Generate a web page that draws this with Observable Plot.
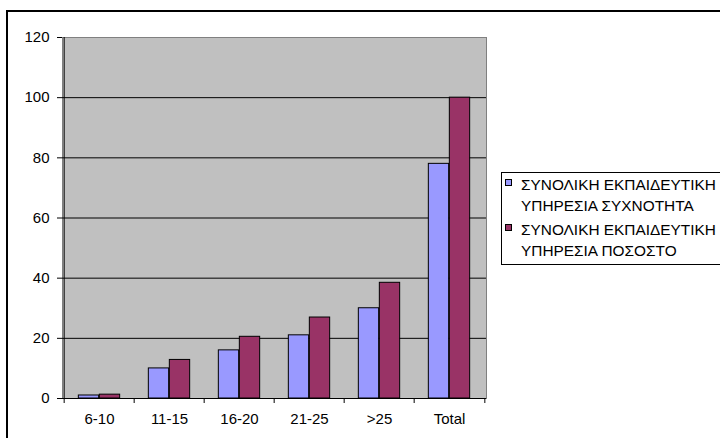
<!DOCTYPE html>
<html>
<head>
<meta charset="utf-8">
<script src="https://cdn.jsdelivr.net/npm/d3@7"></script>
<script src="https://cdn.jsdelivr.net/npm/@observablehq/plot@0.6"></script>
<style>
  html, body { margin: 0; padding: 0; background: #fff; }
  body { width: 720px; height: 438px; overflow: hidden; position: relative; font-family: "Liberation Sans", Arial, sans-serif; }
  #outer { position: absolute; left: 6px; top: 10px; width: 800px; height: 600px; border-left: 2px solid #000; border-top: 2px solid #000; box-sizing: border-box; }
  #chart { position: absolute; left: 0; top: 0; }
  #chart svg text { font-family: "Liberation Sans", Arial, sans-serif !important; font-size: 15px !important; fill: #000; }
  #legend { position: absolute; left: 501px; top: 172px; width: 300px; border: 1px solid #000; background: #fff; padding: 1px 0 3px 0; box-sizing: border-box; }
  .entry { position: relative; padding-left: 19px; font-size: 15.4px; line-height: 21px; width: 230px; margin-bottom: 3px; color: #000; white-space: normal; }
  .entry:last-child { margin-bottom: 0; }
  .sw { position: absolute; left: 3px; top: 5px; width: 5px; height: 5px; border: 1px solid #000; }
</style>
</head>
<body>
<div id="outer"></div>
<div id="chart"></div>
<div id="legend"></div>
<script>
const categories = ["6-10", "11-15", "16-20", "21-25", ">25", "Total"];
const frequency = [1, 10, 16, 21, 30, 78];
const percent = [1.28, 12.82, 20.51, 26.92, 38.46, 100];
const seriesNames = ["ΣΥΝΟΛΙΚΗ ΕΚΠΑΙΔΕΥΤΙΚΗ ΥΠΗΡΕΣΙΑ ΣΥΧΝΟΤΗΤΑ", "ΣΥΝΟΛΙΚΗ ΕΚΠΑΙΔΕΥΤΙΚΗ ΥΠΗΡΕΣΙΑ ΠΟΣΟΣΤΟ"];
const seriesColors = ["#9999FF", "#993366"];
const yTicks = [0, 20, 40, 60, 80, 100, 120];

const W = 720, H = 438, mL = 62, mR = 234, mT = 37, mB = 40;
const bw = (W - mL - mR) / categories.length;
const barW = 21;
const gp = (bw - 2 * barW) / 2;

const chart = Plot.plot({
  width: W, height: H,
  marginLeft: mL, marginRight: mR, marginTop: mT, marginBottom: mB,
  style: { fontFamily: "'Liberation Sans', Arial, sans-serif", fontSize: "15px", background: "transparent", overflow: "visible" },
  x: { domain: categories, padding: 0, axis: null },
  y: { domain: [0, 120], axis: null },
  marks: [
    Plot.frame({ fill: "#c0c0c0", stroke: "#808080" }),
    Plot.ruleY(yTicks.filter(v => v > 0 && v < 120), { stroke: "#000", strokeWidth: 1 }),
    Plot.barY(frequency, { x: categories, y: frequency, fill: seriesColors[0], stroke: "#000", strokeWidth: 1, insetLeft: gp, insetRight: bw - gp - barW }),
    Plot.barY(percent, { x: categories, y: percent, fill: seriesColors[1], stroke: "#000", strokeWidth: 1, insetLeft: gp + barW, insetRight: gp }),
    Plot.ruleY([0], { stroke: "#000", strokeWidth: 1 }),
    Plot.ruleX([categories[0]], { dx: -bw / 2, y1: 0, y2: 120, stroke: "#000", strokeWidth: 1 }),
    Plot.axisY({ ticks: yTicks, tickSize: 5, tickPadding: 8, fontSize: 15, stroke: "#000" }),
    Plot.axisX({ tickSize: 5, tickFormat: () => "", dx: -bw / 2, stroke: "#000" }),
    Plot.axisX({ ticks: [categories[categories.length - 1]], tickSize: 5, tickFormat: () => "", dx: bw / 2, stroke: "#000" }),
    Plot.axisX({ tickSize: 0, tickPadding: 15, fontSize: 15 })
  ]
});
document.getElementById("chart").appendChild(chart);

const legend = d3.select("#legend");
seriesNames.forEach((name, i) => {
  const e = legend.append("div").attr("class", "entry");
  e.append("div").attr("class", "sw").style("background", seriesColors[i]);
  e.append("span").text(name);
});
</script>
</body>
</html>
